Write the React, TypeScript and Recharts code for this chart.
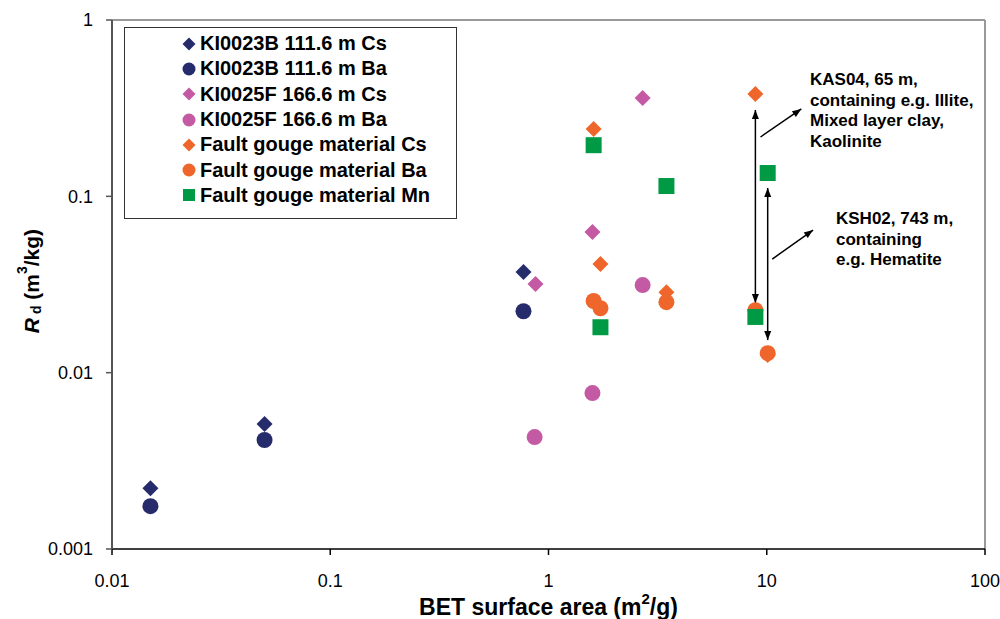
import React from "react"
import { ScatterChart, Scatter, XAxis, YAxis, ReferenceLine } from "recharts"

const FONT = "'Liberation Sans', Arial, sans-serif"

const NAVY = "#262c6b"
const PINK = "#c45aa3"
const ORANGE = "#ee662b"
const GREEN = "#009a44"

// BET surface area (m2/g) vs Rd (m3/kg)
const ki23Cs = [
  { x: 0.015, y: 0.00221 },
  { x: 0.05, y: 0.00511 },
  { x: 0.768, y: 0.0372 },
]
const ki23Ba = [
  { x: 0.015, y: 0.00175 },
  { x: 0.05, y: 0.00415 },
  { x: 0.768, y: 0.0223 },
]
const ki25Cs = [
  { x: 0.872, y: 0.0318 },
  { x: 1.59, y: 0.0627 },
  { x: 2.7, y: 0.361 },
]
const ki25Ba = [
  { x: 0.864, y: 0.00431 },
  { x: 1.59, y: 0.00766 },
  { x: 2.7, y: 0.0314 },
]
const gougeCs = [
  { x: 1.61, y: 0.241 },
  { x: 1.73, y: 0.0413 },
  { x: 3.47, y: 0.0286 },
  { x: 8.87, y: 0.38 },
  { x: 10.1, y: 0.0126 },
]
const gougeBa = [
  { x: 1.61, y: 0.0255 },
  { x: 1.73, y: 0.0232 },
  { x: 3.47, y: 0.0251 },
  { x: 8.87, y: 0.0226 },
  { x: 10.1, y: 0.0129 },
]
const gougeMn = [
  { x: 1.61, y: 0.195 },
  { x: 3.47, y: 0.1144 },
  { x: 1.73, y: 0.0181 },
  { x: 8.87, y: 0.0207 },
  { x: 10.1, y: 0.1356 },
]

const xTicks = [0.01, 0.1, 1, 10, 100]
const yTicks = [0.001, 0.01, 0.1, 1]

// annotation arrows (data coords)
const arrows = [
  { from: { x: 8.87, y: 0.309 }, to: { x: 8.87, y: 0.0248 }, both: true },
  { from: { x: 10.1, y: 0.1115 }, to: { x: 10.1, y: 0.0153 }, both: true },
  { from: { x: 9.36, y: 0.217 }, to: { x: 14.4, y: 0.313 }, both: false },
  { from: { x: 10.6, y: 0.0441 }, to: { x: 16.3, y: 0.0644 }, both: false },
]

const notes = [
  { left: 810, top: 70, lines: ["KAS04, 65 m,", "containing e.g. Illite,", "Mixed layer clay,", "Kaolinite"] },
  { left: 836, top: 209, lines: ["KSH02, 743 m,", "containing", "e.g. Hematite"] },
]

type Kind = "diamond" | "circle" | "square"

const series: { name: string; data: { x: number; y: number }[]; color: string; kind: Kind }[] = [
  { name: "KI0023B 111.6 m Cs", data: ki23Cs, color: NAVY, kind: "diamond" },
  { name: "KI0023B 111.6 m Ba", data: ki23Ba, color: NAVY, kind: "circle" },
  { name: "KI0025F 166.6 m Cs", data: ki25Cs, color: PINK, kind: "diamond" },
  { name: "KI0025F 166.6 m Ba", data: ki25Ba, color: PINK, kind: "circle" },
  { name: "Fault gouge material Cs", data: gougeCs, color: ORANGE, kind: "diamond" },
  { name: "Fault gouge material Ba", data: gougeBa, color: ORANGE, kind: "circle" },
  { name: "Fault gouge material Mn", data: gougeMn, color: GREEN, kind: "square" },
]

function Marker({ kind, cx, cy, color, s }: { kind: Kind; cx: number; cy: number; color: string; s: number }) {
  const h = s / 2
  if (kind === "diamond")
    return <polygon points={`${cx},${cy - h} ${cx + h},${cy} ${cx},${cy + h} ${cx - h},${cy}`} fill={color} />
  if (kind === "circle") return <circle cx={cx} cy={cy} r={h} fill={color} />
  return <rect x={cx - h} y={cy - h} width={s} height={s} fill={color} />
}

function head(x: number, y: number, fx: number, fy: number) {
  // triangle at (x,y) pointing away from (fx,fy)
  const dx = x - fx
  const dy = y - fy
  const len = Math.sqrt(dx * dx + dy * dy) || 1
  const ux = dx / len
  const uy = dy / len
  const L = 9
  const W = 3.5
  const bx = x - ux * L
  const by = y - uy * L
  return `${x},${y} ${bx - uy * W},${by + ux * W} ${bx + uy * W},${by - ux * W}`
}

const arrowShape = (both: boolean) => (p: any) => {
  const { x1, y1, x2, y2 } = p
  return (
    <g>
      <line x1={x1} y1={y1} x2={x2} y2={y2} stroke="#000" strokeWidth={1.5} />
      <polygon points={head(x2, y2, x1, y1)} fill="#000" />
      {both && <polygon points={head(x1, y1, x2, y2)} fill="#000" />}
    </g>
  )
}

const fmt = (v: number) => String(v)

export default function App() {
  return (
    <div style={{ position: "absolute", left: 0, top: 0, width: 1000, height: 619, background: "#fff", fontFamily: FONT }}>
      <ScatterChart width={1000} height={619} margin={{ top: 20, right: 15, bottom: 0, left: 0 }}>
        <XAxis
          type="number"
          dataKey="x"
          scale="log"
          domain={[0.01, 100]}
          ticks={xTicks}
          tickFormatter={fmt}
          allowDataOverflow
          height={70}
          tickSize={6}
          tickMargin={19}
          axisLine={{ stroke: "#000", strokeWidth: 1.5 }}
          tickLine={{ stroke: "#000", strokeWidth: 1.5 }}
          tick={{ fill: "#000", fontSize: 18, fontFamily: FONT }}
          label={(props: any) => {
            const vb = props.viewBox
            return (
              <text x={vb.x + vb.width / 2} y={607} textAnchor="middle" dominantBaseline="central" fontFamily={FONT} fontWeight="bold" fontSize={23} fill="#000">
                BET surface area (m<tspan dy={-9} fontSize={15}>2</tspan><tspan dy={9}>/g)</tspan>
              </text>
            )
          }}
        />
        <YAxis
          type="number"
          dataKey="y"
          scale="log"
          domain={[0.001, 1]}
          ticks={yTicks}
          tickFormatter={fmt}
          allowDataOverflow
          width={112}
          tickSize={6}
          tickMargin={13}
          axisLine={{ stroke: "#555", strokeWidth: 2 }}
          tickLine={{ stroke: "#555", strokeWidth: 1.5 }}
          tick={{ fill: "#000", fontSize: 18, fontFamily: FONT }}
          label={(props: any) => {
            const vb = props.viewBox
            const cy = 281
            return (
              <text x={31} y={cy} transform={`rotate(-90 31 ${cy})`} textAnchor="middle" dominantBaseline="central" fontFamily={FONT} fontWeight="bold" fontSize={21} fill="#000">
                <tspan fontStyle="italic">R</tspan>
                <tspan dy={5} fontSize={14}> d</tspan>
                <tspan dy={-5}> (m</tspan>
                <tspan dy={-9} fontSize={14}>3</tspan>
                <tspan dy={9}>/kg)</tspan>
              </text>
            )
          }}
        />
        <ReferenceLine y={1} stroke="#999" strokeWidth={2} />
        <ReferenceLine x={100} stroke="#999" strokeWidth={2} />
        {series.map((s) => (
          <Scatter
            key={s.name}
            name={s.name}
            data={s.data}
            fill={s.color}
            isAnimationActive={false}
            shape={(p: any) => <Marker kind={s.kind} cx={p.cx} cy={p.cy} color={s.color} s={s.kind === "diamond" ? 16 : 16} />}
          />
        ))}
        {arrows.map((a, i) => (
          <ReferenceLine key={i} segment={[a.from, a.to]} shape={arrowShape(a.both)} />
        ))}
      </ScatterChart>

      <div
        style={{
          position: "absolute",
          left: 124,
          top: 27,
          width: 331,
          height: 187,
          border: "1.5px solid #333",
          boxSizing: "content-box",
          paddingTop: 3,
        }}
      >
        {series.map((s) => (
          <div key={s.name} style={{ display: "flex", alignItems: "center", height: 25.3, paddingLeft: 57 }}>
            <svg width={14} height={14} style={{ marginRight: 4 }}>
              <Marker kind={s.kind} cx={7} cy={7} color={s.color} s={s.kind === "square" ? 12 : 13} />
            </svg>
            <span style={{ fontWeight: "bold", fontSize: 20, color: "#000", whiteSpace: "nowrap" }}>{s.name}</span>
          </div>
        ))}
      </div>

      {notes.map((n, i) => (
        <div key={i} style={{ position: "absolute", left: n.left, top: n.top, fontWeight: "bold", fontSize: 17, lineHeight: "20.5px", color: "#000", whiteSpace: "nowrap" }}>
          {n.lines.map((l) => (
            <div key={l}>{l}</div>
          ))}
        </div>
      ))}
    </div>
  )
}
